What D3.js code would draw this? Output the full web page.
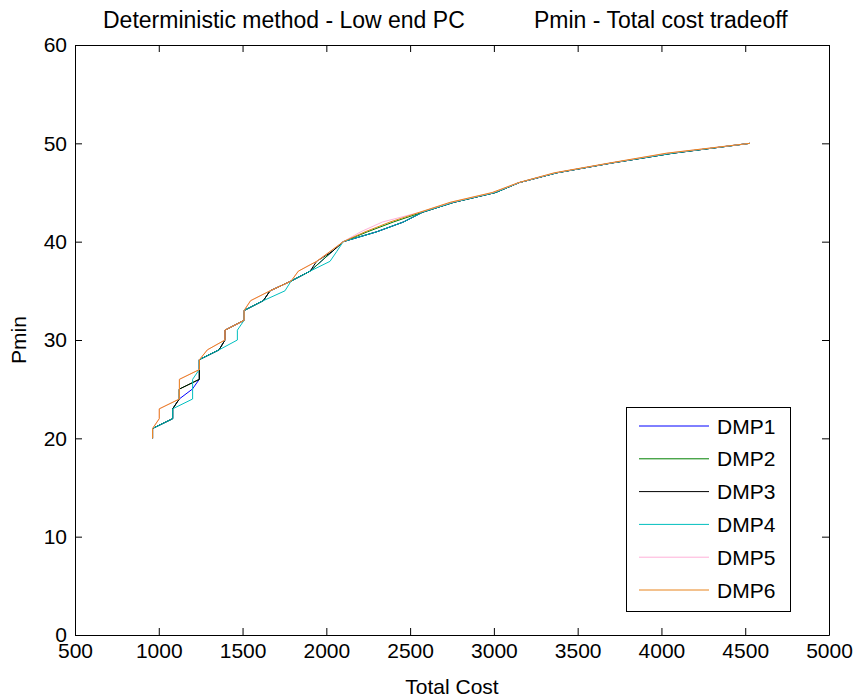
<!DOCTYPE html>
<html>
<head>
<meta charset="utf-8">
<script src="https://cdn.jsdelivr.net/npm/d3@7"></script>
<style>
  html, body { margin: 0; padding: 0; background: #fff; }
  svg { display: block; font-family: "Liberation Sans", Arial, Helvetica, sans-serif; }
</style>
</head>
<body>
<svg id="chart" width="854" height="700"></svg>
<script>
// Pmin levels shared by every series (one cost value per level)
const pminLevels = [20, 21, 22, 23, 24, 25, 26, 27, 28, 29, 30, 31, 32, 33, 34, 35,
                    36, 37, 38, 39, 40, 41, 42, 43, 44, 45, 46, 47, 48, 49, 50];

const seriesNames = ["DMP1", "DMP2", "DMP3", "DMP4", "DMP5", "DMP6"];
const seriesColors = ["#0000ff", "#008000", "#000000", "#00bfbf", "#ffb0d8", "#e8841c"];

// Total cost reached for each Pmin level
const costDMP1 = [963, 963, 1083, 1083, 1122, 1200, 1242, 1242, 1242, 1360, 1395, 1395, 1509, 1509, 1624, 1664,
                  1790, 1903, 1969, 2035, 2101, 2300, 2460, 2575, 2760, 3010, 3150, 3375, 3703, 4069, 4528];
const costDMP2 = [963, 963, 1083, 1083, 1122, 1122, 1242, 1242, 1242, 1360, 1395, 1395, 1509, 1509, 1624, 1664,
                  1790, 1903, 1969, 2035, 2101, 2245, 2400, 2575, 2760, 3010, 3150, 3375, 3703, 4069, 4528];
const costDMP3 = [963, 963, 1083, 1083, 1122, 1122, 1242, 1242, 1242, 1360, 1395, 1395, 1509, 1509, 1624, 1664,
                  1790, 1903, 1942, 2035, 2101, 2300, 2460, 2575, 2760, 3010, 3150, 3375, 3703, 4069, 4528];
const costDMP4 = [963, 963, 1083, 1083, 1202, 1202, 1202, 1242, 1242, 1360, 1469, 1469, 1509, 1509, 1624, 1753,
                  1790, 1903, 2022, 2062, 2101, 2300, 2460, 2575, 2760, 3010, 3150, 3375, 3703, 4069, 4528];
const costDMP5 = [963, 963, 1003, 1003, 1123, 1123, 1123, 1243, 1243, 1290, 1395, 1395, 1509, 1509, 1548, 1664,
                  1790, 1833, 1942, 2022, 2101, 2205, 2335, 2560, 2745, 2995, 3148, 3365, 3695, 4040, 4528];
const costDMP6 = [963, 963, 1003, 1003, 1123, 1123, 1123, 1243, 1243, 1290, 1395, 1395, 1509, 1509, 1548, 1664,
                  1790, 1833, 1942, 2022, 2101, 2231, 2380, 2559, 2738, 2990, 3146, 3360, 3690, 4031, 4528];

const seriesCosts = [costDMP1, costDMP2, costDMP3, costDMP4, costDMP5, costDMP6];

const xTicks = [500, 1000, 1500, 2000, 2500, 3000, 3500, 4000, 4500, 5000];
const yTicks = [0, 10, 20, 30, 40, 50, 60];

const titleLeft = "Deterministic method - Low end PC";
const titleRight = "Pmin - Total cost tradeoff";
const xLabel = "Total Cost";
const yLabel = "Pmin";

// Layout
const plot = { left: 75, right: 829, top: 45, bottom: 635 };
const tickLen = 7;
const fontSize = 21;
const titleSize = 23;

const svg = d3.select("#chart");

const x = d3.scaleLinear().domain([500, 5000]).range([plot.left, plot.right]);
const y = d3.scaleLinear().domain([0, 60]).range([plot.bottom, plot.top]);

// Series lines
const line = d3.line()
  .x(d => x(d.cost))
  .y(d => y(d.pmin));

const lines = svg.append("g").attr("class", "series");
seriesCosts.forEach((costs, i) => {
  const pts = costs.map((c, k) => ({ cost: c, pmin: pminLevels[k] }));
  lines.append("path")
    .datum(pts)
    .attr("fill", "none")
    .attr("stroke", seriesColors[i])
    .attr("stroke-width", 1)
    .attr("stroke-linejoin", "round")
    .attr("d", line);
});

// Axes: ticks point inward on all four sides
const axBottom = d3.axisBottom(x).tickValues(xTicks).tickSizeInner(-tickLen).tickSizeOuter(0)
  .tickPadding(8).tickFormat(d3.format("d"));
const axTop = d3.axisTop(x).tickValues(xTicks).tickSizeInner(-tickLen).tickSizeOuter(0).tickFormat("");
const axLeft = d3.axisLeft(y).tickValues(yTicks).tickSizeInner(-tickLen).tickSizeOuter(0)
  .tickPadding(8).tickFormat(d3.format("d"));
const axRight = d3.axisRight(y).tickValues(yTicks).tickSizeInner(-tickLen).tickSizeOuter(0).tickFormat("");

function styleAxis(g) {
  g.select(".domain").attr("stroke", "#000");
  g.selectAll(".tick line").attr("stroke", "#000");
  g.selectAll(".tick text")
    .attr("fill", "#000")
    .style("font-size", fontSize + "px")
    .style("font-family", "'Liberation Sans', Arial, sans-serif");
}

svg.append("g").attr("transform", `translate(0,${plot.bottom})`).call(axBottom).call(styleAxis);
svg.append("g").attr("transform", `translate(0,${plot.top})`).call(axTop).call(styleAxis);
svg.append("g").attr("transform", `translate(${plot.left},0)`).call(axLeft).call(styleAxis);
svg.append("g").attr("transform", `translate(${plot.right},0)`).call(axRight).call(styleAxis);

// Titles and axis labels
svg.append("text")
  .attr("x", 103).attr("y", 28)
  .attr("font-size", titleSize).attr("fill", "#000")
  .text(titleLeft);
svg.append("text")
  .attr("x", 534).attr("y", 28)
  .attr("font-size", titleSize).attr("fill", "#000")
  .text(titleRight);

svg.append("text")
  .attr("x", (plot.left + plot.right) / 2).attr("y", 694)
  .attr("text-anchor", "middle")
  .attr("font-size", fontSize).attr("fill", "#000")
  .text(xLabel);

svg.append("text")
  .attr("transform", `translate(26,${(plot.top + plot.bottom) / 2}) rotate(-90)`)
  .attr("text-anchor", "middle")
  .attr("font-size", fontSize).attr("fill", "#000")
  .text(yLabel);

// Legend
const legend = { left: 626, top: 407, width: 164, height: 204, rowStart: 426, rowStep: 32.8 };
const lg = svg.append("g").attr("class", "legend");
lg.append("rect")
  .attr("x", legend.left + 0.5).attr("y", legend.top + 0.5)
  .attr("width", legend.width).attr("height", legend.height)
  .attr("fill", "#fff").attr("stroke", "#000").attr("stroke-width", 1);

seriesNames.forEach((name, i) => {
  const ry = legend.rowStart + i * legend.rowStep;
  lg.append("line")
    .attr("x1", legend.left + 13).attr("x2", legend.left + 83)
    .attr("y1", ry).attr("y2", ry)
    .attr("stroke", seriesColors[i]).attr("stroke-width", 1);
  lg.append("text")
    .attr("x", legend.left + 91).attr("y", ry + 7.5)
    .attr("font-size", fontSize).attr("fill", "#000")
    .text(name);
});
</script>
</body>
</html>
